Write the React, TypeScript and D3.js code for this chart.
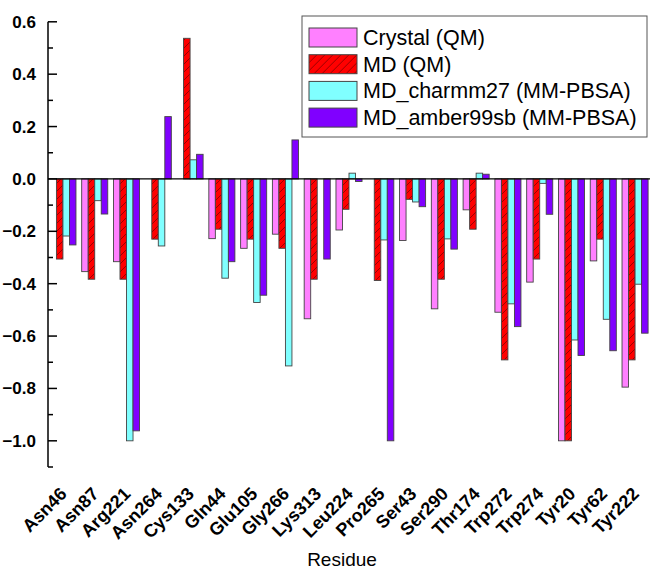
import { useEffect, useRef } from 'react';
import * as d3 from 'd3';

const residues = [
  'Asn46', 'Asn87', 'Arg221', 'Asn264', 'Cys133', 'Gln44', 'Glu105', 'Gly266', 'Lys313', 'Leu224',
  'Pro265', 'Ser43', 'Ser290', 'Thr174', 'Trp272', 'Trp274', 'Tyr20', 'Tyr62', 'Tyr222',
];

const seriesNames = ['Crystal (QM)', 'MD (QM)', 'MD_charmm27 (MM-PBSA)', 'MD_amber99sb (MM-PBSA)'];

const crystalQM = [0, -0.354, -0.316, 0, 0, -0.228, -0.265, -0.211, -0.534, -0.195,
  0, -0.235, -0.496, -0.118, -0.509, -0.394, -1.0, -0.313, -0.795];
const mdQM = [-0.306, -0.383, -0.383, -0.23, 0.537, -0.192, -0.23, -0.265, -0.383, -0.116,
  -0.388, -0.078, -0.383, -0.192, -0.691, -0.306, -1.0, -0.23, -0.691];
const mdCharmm = [-0.218, -0.083, -1.0, -0.256, 0.073, -0.379, -0.472, -0.714, 0, 0.022,
  -0.233, -0.088, -0.229, 0.022, -0.477, -0.017, -0.615, -0.536, -0.402];
const mdAmber = [-0.252, -0.134, -0.962, 0.238, 0.094, -0.316, -0.444, 0.149, -0.306, -0.01,
  -1.0, -0.106, -0.268, 0.018, -0.564, -0.135, -0.674, -0.656, -0.589];

const seriesValues = [crystalQM, mdQM, mdCharmm, mdAmber];
const fills = ['#ff80ff', 'url(#hatch)', '#80ffff', '#8000ff'];

const yMajorTicks = [0.6, 0.4, 0.2, 0.0, -0.2, -0.4, -0.6, -0.8, -1.0];
const yMinorTicks = [0.5, 0.3, 0.1, -0.1, -0.3, -0.5, -0.7, -0.9, -1.1];

const W = 651;
const H = 571;

function App() {
  const svgRef = useRef(null);

  useEffect(() => {
    const svg = d3.select(svgRef.current);
    svg.selectAll('*').remove();

    const font = "'Liberation Sans', Arial, sans-serif";

    const defs = svg.append('defs');
    const pat = defs
      .append('pattern')
      .attr('id', 'hatch')
      .attr('patternUnits', 'userSpaceOnUse')
      .attr('width', 8)
      .attr('height', 8);
    pat.append('rect').attr('width', 8).attr('height', 8).attr('fill', '#ff0000');
    pat
      .append('path')
      .attr('d', 'M-2,10 L10,-2 M-2,2 L2,-2 M6,10 L10,6')
      .attr('stroke', '#700000')
      .attr('stroke-width', 0.7);

    const y = d3.scaleLinear().domain([-1.1, 0.6]).range([467, 21.8]);
    const x = d3
      .scaleBand()
      .domain(residues)
      .range([48, 650])
      .paddingInner(0.18)
      .paddingOuter(0.06);
    const xs = d3
      .scaleBand()
      .domain(seriesNames.map((_, i) => String(i)))
      .range([0, x.bandwidth()]);

    // bars
    const barData = [];
    residues.forEach((r, ri) => {
      seriesValues.forEach((vals, si) => {
        if (vals[ri] !== 0) barData.push({ r, si, v: vals[ri] });
      });
    });

    svg
      .append('g')
      .selectAll('rect')
      .data(barData)
      .enter()
      .append('rect')
      .attr('x', d => x(d.r) + xs(String(d.si)))
      .attr('width', xs.bandwidth())
      .attr('y', d => y(Math.max(0, d.v)))
      .attr('height', d => Math.abs(y(d.v) - y(0)))
      .attr('fill', d => fills[d.si])
      .attr('stroke', '#444')
      .attr('stroke-width', 0.9);

    // zero line
    svg
      .append('line')
      .attr('x1', 48)
      .attr('x2', 650)
      .attr('y1', y(0))
      .attr('y2', y(0))
      .attr('stroke', '#000')
      .attr('stroke-width', 1.2);

    // y axis
    const axis = svg.append('g');
    axis
      .append('line')
      .attr('x1', 48)
      .attr('x2', 48)
      .attr('y1', y(0.6))
      .attr('y2', y(-1.1))
      .attr('stroke', '#000')
      .attr('stroke-width', 1.5);
    axis
      .selectAll('line.major')
      .data(yMajorTicks)
      .enter()
      .append('line')
      .attr('class', 'major')
      .attr('x1', 48)
      .attr('x2', 57)
      .attr('y1', d => y(d))
      .attr('y2', d => y(d))
      .attr('stroke', '#000')
      .attr('stroke-width', 1.5);
    axis
      .selectAll('line.minor')
      .data(yMinorTicks)
      .enter()
      .append('line')
      .attr('class', 'minor')
      .attr('x1', 48)
      .attr('x2', 53)
      .attr('y1', d => y(d))
      .attr('y2', d => y(d))
      .attr('stroke', '#000')
      .attr('stroke-width', 1.5);
    axis
      .selectAll('text')
      .data(yMajorTicks)
      .enter()
      .append('text')
      .attr('x', 36)
      .attr('y', d => y(d) + 6)
      .attr('text-anchor', 'end')
      .style('font-family', font)
      .style('font-size', '17px')
      .style('font-weight', 'bold')
      .text(d => d3.format('.1f')(d));

    // x labels
    svg
      .append('g')
      .selectAll('text')
      .data(residues)
      .enter()
      .append('text')
      .attr('text-anchor', 'end')
      .attr(
        'transform',
        d => `translate(${x(d) + x.bandwidth() / 2 + 5}, 495) rotate(-45)`,
      )
      .style('font-family', font)
      .style('font-size', '18px')
      .style('font-weight', 'bold')
      .text(d => d);

    svg
      .append('text')
      .attr('x', 342)
      .attr('y', 566)
      .attr('text-anchor', 'middle')
      .style('font-family', font)
      .style('font-size', '19px')
      .text('Residue');

    // legend
    const lg = svg.append('g');
    lg.append('rect')
      .attr('x', 302)
      .attr('y', 16)
      .attr('width', 345)
      .attr('height', 121)
      .attr('fill', '#fff')
      .attr('stroke', '#555')
      .attr('stroke-width', 1);
    const items = lg
      .selectAll('g.item')
      .data(seriesNames)
      .enter()
      .append('g')
      .attr('class', 'item')
      .attr('transform', (_, i) => `translate(309, ${28 + i * 26.7})`);
    items
      .append('rect')
      .attr('width', 48)
      .attr('height', 19)
      .attr('fill', (_, i) => fills[i])
      .attr('stroke', '#444')
      .attr('stroke-width', 1);
    items
      .append('text')
      .attr('x', 54)
      .attr('y', 17)
      .style('font-family', font)
      .style('font-size', '21.5px')
      .text(d => d);
  }, []);

  return (
    <svg
      ref={svgRef}
      width={W}
      height={H}
      style={{ position: 'absolute', left: 0, top: 0, background: '#fff' }}
    />
  );
}

export default App;
